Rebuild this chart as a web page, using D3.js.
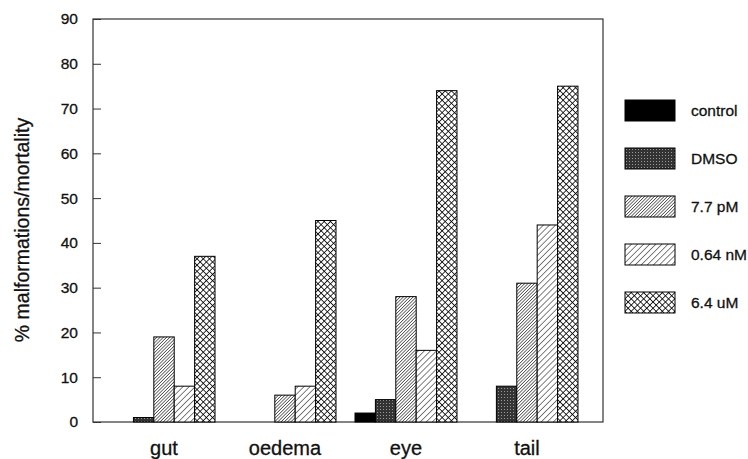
<!DOCTYPE html>
<html>
<head>
<meta charset="utf-8">
<script src="https://cdn.jsdelivr.net/npm/d3@7"></script>
<style>
  html, body { margin: 0; padding: 0; background: #fff; }
  svg { display: block; font-family: "Liberation Sans", Arial, Helvetica, sans-serif; }
  svg text { stroke: #111; stroke-width: 0.3px; }
</style>
</head>
<body>
<svg id="chart" width="748" height="459"></svg>
<script>
// Malformation / mortality rates per endpoint and treatment
const categories = ["gut", "oedema", "eye", "tail"];
const seriesNames = ["control", "DMSO", "7.7 pM", "0.64 nM", "6.4 uM"];
const controlValues = [0, 0, 2, 0];
const dmsoValues    = [1, 0, 5, 8];
const pM77Values    = [19, 6, 28, 31];
const nM064Values   = [8, 8, 16, 44];
const uM64Values    = [37, 45, 74, 75];
const yTicks = [0, 10, 20, 30, 40, 50, 60, 70, 80, 90];

const seriesValues = [controlValues, dmsoValues, pM77Values, nM064Values, uM64Values];
const fills = ["#000", "url(#pDmso)", "url(#pFine)", "url(#pWide)", "url(#pCross)"];

const svg = d3.select("#chart");
const frame = { left: 93, right: 603, top: 19, bottom: 422 };

// Hatch patterns
const defs = svg.append("defs");
const dm = defs.append("pattern").attr("id", "pDmso")
  .attr("patternUnits", "userSpaceOnUse").attr("width", 3).attr("height", 3);
dm.append("rect").attr("width", 3).attr("height", 3).attr("fill", "#333");
dm.append("rect").attr("x", 1).attr("y", 1).attr("width", 1).attr("height", 1).attr("fill", "#999");

function hatch(id, step, width) {
  const p = defs.append("pattern").attr("id", id)
    .attr("patternUnits", "userSpaceOnUse")
    .attr("width", step).attr("height", step)
    .attr("patternTransform", "rotate(45)");
  p.append("rect").attr("width", step).attr("height", step).attr("fill", "#fff");
  p.append("line").attr("x1", 0).attr("y1", 0).attr("x2", 0).attr("y2", step)
    .attr("stroke", "#000").attr("stroke-width", width);
}
hatch("pFine", 2.3, 1.1);
hatch("pWide", 4.3, 1.0);

const cs = 4.4;
const cr = defs.append("pattern").attr("id", "pCross")
  .attr("patternUnits", "userSpaceOnUse").attr("width", cs).attr("height", cs)
  .attr("patternTransform", "rotate(45)");
cr.append("rect").attr("width", cs).attr("height", cs).attr("fill", "#fff");
cr.append("line").attr("x1", 0).attr("y1", 0).attr("x2", 0).attr("y2", cs)
  .attr("stroke", "#000").attr("stroke-width", 1.6);
cr.append("line").attr("x1", 0).attr("y1", 0).attr("x2", cs).attr("y2", 0)
  .attr("stroke", "#000").attr("stroke-width", 1.6);

// Scales
const x0 = d3.scaleBand().domain(categories).range([91, 600])
  .paddingInner(0.157).paddingOuter(0.182);
const x1 = d3.scaleBand().domain(seriesNames).range([0, x0.bandwidth()]);
const y = d3.scaleLinear().domain([0, 90]).range([frame.bottom, frame.top]);

// Frame
svg.append("rect")
  .attr("x", frame.left).attr("y", frame.top)
  .attr("width", frame.right - frame.left).attr("height", frame.bottom - frame.top)
  .attr("fill", "none").attr("stroke", "#333").attr("stroke-width", 1.2);

// Y axis with inward ticks
const yAxis = svg.append("g").attr("transform", `translate(${frame.left},0)`)
  .call(d3.axisLeft(y).tickValues(yTicks).tickSize(-8).tickPadding(15));
yAxis.select(".domain").remove();
yAxis.selectAll(".tick line").attr("stroke", "#333");
yAxis.selectAll(".tick text").attr("font-size", 15.5).attr("fill", "#111")
  .attr("font-family", "Liberation Sans, Arial, sans-serif");

// Bars
const groups = svg.append("g").selectAll("g").data(categories).join("g")
  .attr("transform", c => `translate(${x0(c)},0)`);
groups.selectAll("rect")
  .data((c, ci) => seriesNames.map((s, si) => ({ s, si, v: seriesValues[si][ci] })))
  .join("rect")
  .filter(d => d.v > 0)
  .attr("x", d => x1(d.s))
  .attr("y", d => y(d.v))
  .attr("width", x1.bandwidth())
  .attr("height", d => y(0) - y(d.v))
  .attr("fill", d => fills[d.si])
  .attr("stroke", "#000").attr("stroke-width", 1);

// Category labels
svg.append("g").selectAll("text").data(categories).join("text")
  .attr("x", c => x0(c) + x0.bandwidth() / 2)
  .attr("y", 455)
  .attr("text-anchor", "middle")
  .attr("font-size", 20).attr("fill", "#111")
  .text(c => c);

// Y axis title
svg.append("text")
  .attr("transform", "translate(29,230) rotate(-90)")
  .attr("text-anchor", "middle")
  .attr("font-size", 19.5).attr("fill", "#111")
  .text("% malformations/mortality");

// Legend
const legend = svg.append("g").selectAll("g").data(seriesNames).join("g")
  .attr("transform", (d, i) => `translate(625,${100 + i * 48})`);
legend.append("rect")
  .attr("width", 50).attr("height", 21)
  .attr("fill", (d, i) => fills[i])
  .attr("stroke", "#000").attr("stroke-width", 1);
legend.append("text")
  .attr("x", 66).attr("y", 16)
  .attr("font-size", 15.5).attr("fill", "#111")
  .text(d => d);
</script>
</body>
</html>
